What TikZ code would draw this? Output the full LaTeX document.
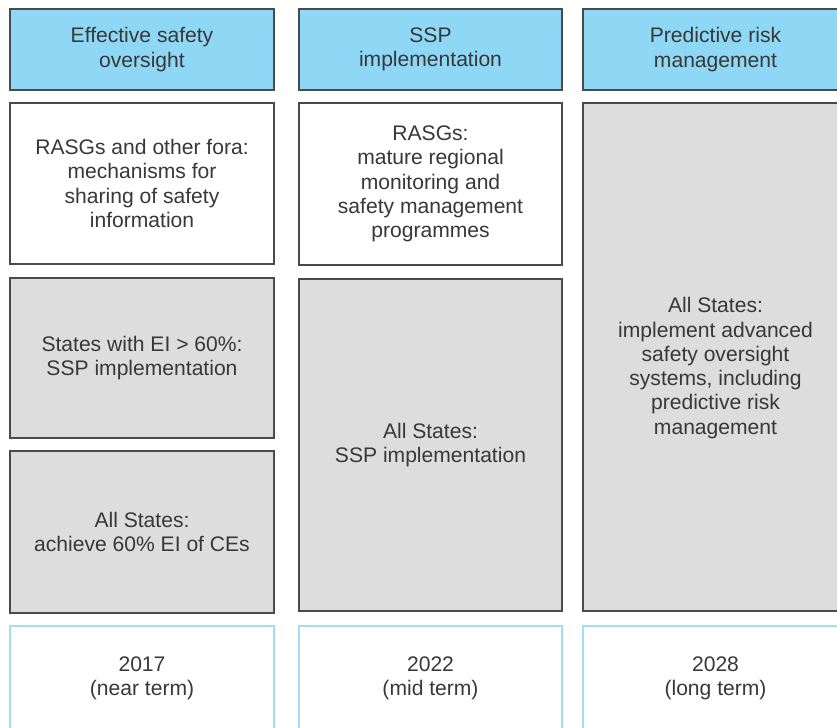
\documentclass[tikz,border=0pt]{standalone}
\usepackage{fontspec}
\setmainfont{Liberation Sans}
\definecolor{headblue}{HTML}{8ED8F5}
\definecolor{boxgray}{HTML}{DDDDDD}
\definecolor{edgegray}{HTML}{4A4A4A}
\definecolor{termblue}{HTML}{A2DEF7}
\definecolor{txtgray}{HTML}{383838}

\begin{document}
\begin{tikzpicture}[x=0.02cm,y=-0.02cm,
	box/.style={draw=edgegray, line width=0.9pt, align=center, text=txtgray, inner sep=0pt, font=\fontsize{12}{13.8}\selectfont},
	headbox/.style={box, fill=headblue, minimum height=1.62cm},
	graybox/.style={box, fill=boxgray},
	whitebox/.style={box, fill=white},
	termbox/.style={box, draw=termblue, line width=1.6pt, minimum height=2.08cm}]
	\useasboundingbox (0,0) rectangle (837,727);
	\clip (0,0) rectangle (837,727);
	%Headers
	\node[headbox, minimum width=5.28cm] (oversight) at (142,49.5) {Effective safety\\oversight};
	\node[headbox, minimum width=5.26cm] (ssp) at (430.5,49.5) {SSP\\implementation};
	\node[headbox, minimum width=5.3cm] (predictive) at (715.5,49.5) {Predictive risk\\management};
	%First column
	\node[whitebox, minimum width=5.28cm, minimum height=3.22cm] (fora) at (142,183.5) {RASGs and other fora:\\mechanisms for\\sharing of safety\\information};
	\node[graybox, minimum width=5.28cm, minimum height=3.2cm] (elsixty) at (142,358) {States with EI > 60\%:\\SSP implementation};
	\node[graybox, minimum width=5.28cm, minimum height=3.24cm] (achieve) at (142,532) {All States:\\achieve 60\% EI of CEs};
	%Second column
	\node[whitebox, minimum width=5.26cm, minimum height=3.24cm] (mature) at (430.5,184) {RASGs:\\mature regional\\monitoring and\\safety management\\programmes};
	\node[graybox, minimum width=5.26cm, minimum height=6.64cm] (allssp) at (430.5,445) {All States:\\SSP implementation};
	%Third column
	\node[graybox, minimum width=5.3cm, minimum height=10.16cm] (advanced) at (715.5,357) {};
	\node[align=center, text=txtgray, font=\fontsize{12}{13.8}\selectfont] (advtext) at (715.5,368) {All States:\\implement advanced\\safety oversight\\systems, including\\predictive risk\\management};
	%Terms
	\node[termbox, minimum width=5.28cm] (near) at (142,678) {2017\\(near term)};
	\node[termbox, minimum width=5.26cm] (mid) at (430.5,678) {2022\\(mid term)};
	\node[termbox, minimum width=5.3cm] (long) at (715.5,678) {2028\\(long term)};
\end{tikzpicture}
\end{document}
